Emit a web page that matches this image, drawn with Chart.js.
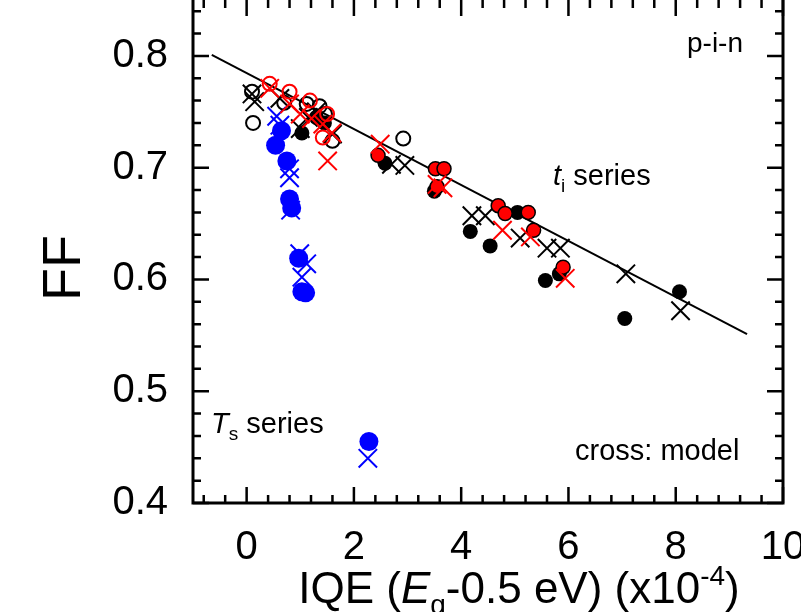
<!DOCTYPE html>
<html>
<head>
<meta charset="utf-8">
<script src="https://cdn.jsdelivr.net/npm/chart.js@4.4.1/dist/chart.umd.min.js"></script>
<style>
  html, body { margin: 0; padding: 0; background: #fff; }
  #wrap { width: 801px; height: 612px; }
</style>
</head>
<body>
<div id="wrap"><canvas id="ffChart" width="801" height="612"></canvas></div>
<script>
// measured, t_i series (black) and T_s series (blue); red = second sample set
const blackOpenX   = [0.1, 0.12, 0.7, 1.12, 1.36, 1.46, 1.6, 2.92];
const blackOpenY   = [0.768, 0.740, 0.758, 0.757, 0.755, 0.748, 0.724, 0.726];
const blackFillX   = [1.03, 1.3, 1.45, 2.58, 3.5, 4.17, 4.54, 5.05, 5.57, 5.83, 7.05, 8.07];
const blackFillY   = [0.731, 0.745, 0.740, 0.704, 0.679, 0.643, 0.630, 0.660, 0.599, 0.605, 0.565, 0.589];
const blackCrossX  = [0.1, 0.15, 0.62, 1.0, 1.15, 1.3, 1.6, 2.7, 2.95, 4.2, 4.45, 5.1, 5.6, 5.85, 7.07, 8.09];
const blackCrossY  = [0.766, 0.759, 0.762, 0.735, 0.745, 0.750, 0.730, 0.703, 0.702, 0.657, 0.657, 0.637, 0.628, 0.628, 0.605, 0.572];
const redOpenX     = [0.43, 0.8, 1.18, 1.5, 1.42];
const redOpenY     = [0.775, 0.768, 0.760, 0.748, 0.727];
const redFillX     = [2.45, 3.52, 3.68, 3.55, 4.69, 4.82, 5.25, 5.35, 5.9];
const redFillY     = [0.711, 0.699, 0.699, 0.683, 0.666, 0.659, 0.660, 0.644, 0.611];
const redCrossX    = [0.43, 0.8, 1.0, 1.21, 1.42, 1.59, 1.51, 2.49, 3.55, 3.66, 4.77, 5.29, 5.94];
const redCrossY    = [0.771, 0.757, 0.748, 0.744, 0.739, 0.731, 0.706, 0.721, 0.685, 0.682, 0.644, 0.638, 0.601];
const blueFillX    = [0.65, 0.54, 0.75, 0.8, 0.84, 0.97, 1.03, 1.1, 2.28];
const blueFillY    = [0.733, 0.720, 0.706, 0.672, 0.664, 0.619, 0.589, 0.588, 0.455];
const blueCrossX   = [0.56, 0.62, 0.8, 0.8, 0.82, 0.99, 1.12, 1.03, 2.26];
const blueCrossY   = [0.746, 0.738, 0.699, 0.691, 0.662, 0.623, 0.614, 0.602, 0.440];
const trendX       = [-0.65, 9.33];
const trendY       = [0.801, 0.551];

const xTicks = [0, 2, 4, 6, 8, 10];
const yTicks = [0.4, 0.5, 0.6, 0.7, 0.8];

const FAM = '"Liberation Sans", Arial, sans-serif';

function pts(xs, ys) { return xs.map((x, i) => ({x: x, y: ys[i]})); }

function richText(ctx, parts, x, y, size, align) {
    const fontFor = p => (p.i ? 'italic ' : '') + ((p.sub || p.sup) ? Math.round(size * 0.64) : size) + 'px ' + FAM;
    let w = 0;
    parts.forEach(p => { ctx.font = fontFor(p); w += ctx.measureText(p.t).width; });
    let cx = align === 'center' ? x - w / 2 : x;
    parts.forEach(p => {
        ctx.font = fontFor(p);
        const dy = p.sub ? size * 0.25 : p.sup ? -size * 0.42 : 0;
        ctx.fillText(p.t, cx, y + dy);
        cx += ctx.measureText(p.t).width;
    });
}

// frame, inward ticks, titles and labels
const decor = {
    id: 'decor',
    afterDraw(chart) {
        const {ctx, chartArea: a, scales: {x, y}} = chart;
        ctx.save();
        ctx.strokeStyle = '#000';
        ctx.lineWidth = 3;
        ctx.beginPath();
        ctx.moveTo(a.left, a.top); ctx.lineTo(a.left, a.bottom);
        ctx.lineTo(a.right, a.bottom); ctx.lineTo(a.right, a.top);
        ctx.stroke();

        ctx.lineWidth = 2.5;
        ctx.beginPath();
        for (let i = -2; i <= 25; i++) {
            const px = x.getPixelForValue(i * 0.4);
            const len = (i % 5 === 0) ? 16 : 8;
            ctx.moveTo(px, a.bottom); ctx.lineTo(px, a.bottom - len);
            ctx.moveTo(px, a.top); ctx.lineTo(px, a.top + len);
        }
        for (let i = 20; i <= 42; i++) {
            const py = y.getPixelForValue(i * 0.02);
            const len = (i % 5 === 0) ? 16 : 8;
            ctx.moveTo(a.left, py); ctx.lineTo(a.left + len, py);
            ctx.moveTo(a.right, py); ctx.lineTo(a.right - len, py);
        }
        ctx.stroke();

        ctx.fillStyle = '#000';
        ctx.textBaseline = 'alphabetic';
        ctx.textAlign = 'left';
        richText(ctx, [
            {t: 'IQE ('}, {t: 'E', i: true}, {t: 'g', sub: true},
            {t: '-0.5 eV) (x10'}, {t: '-4', sup: true}, {t: ')'}
        ], 519, 603, 44, 'center');

        richText(ctx, [{t: 'p-i-n'}], 687, 52, 28);
        richText(ctx, [{t: 't', i: true}, {t: 'i', sub: true}, {t: ' series'}], 553, 185, 29);
        richText(ctx, [{t: 'T', i: true}, {t: 's', sub: true}, {t: ' series'}], 211, 433, 29);
        richText(ctx, [{t: 'cross: model'}], 575, 460, 29);

        ctx.save();
        ctx.translate(80, 268);
        ctx.rotate(-Math.PI / 2);
        ctx.textAlign = 'center';
        ctx.font = '54px ' + FAM;
        ctx.fillText('FF', 0, 0);
        ctx.restore();
        ctx.restore();
    }
};

function circles(data, color, fill, r, bw, order) {
    return { data: data, pointStyle: 'circle', pointRadius: r, borderColor: color,
             backgroundColor: fill, borderWidth: bw, order: order, showLine: false };
}
function crosses(data, color, order) {
    return { data: data, pointStyle: 'crossRot', pointRadius: 13, borderColor: color,
             backgroundColor: color, borderWidth: 2, order: order, showLine: false };
}

const ctx = document.getElementById('ffChart').getContext('2d');
new Chart(ctx, {
    type: 'scatter',
    data: {
        datasets: [
            crosses(pts(redCrossX, redCrossY), '#ff0000', 1),
            circles(pts(redFillX, redFillY), '#000000', '#ff0000', 7, 1.5, 2),
            circles(pts(redOpenX, redOpenY), '#ff0000', 'rgba(0,0,0,0)', 7, 2, 3),
            crosses(pts(blackCrossX, blackCrossY), '#000000', 4),
            circles(pts(blackFillX, blackFillY), '#000000', '#000000', 7.5, 0, 5),
            circles(pts(blackOpenX, blackOpenY), '#000000', 'rgba(0,0,0,0)', 7, 2, 6),
            crosses(pts(blueCrossX, blueCrossY), '#0000ff', 7),
            circles(pts(blueFillX, blueFillY), '#0000ff', '#0000ff', 9.5, 0, 8),
            { type: 'line', data: pts(trendX, trendY), borderColor: '#000', borderWidth: 2,
              pointRadius: 0, fill: false, order: 9 }
        ]
    },
    options: {
        responsive: false,
        animation: false,
        layout: { autoPadding: false, padding: { left: 0, right: 18, top: 0, bottom: 0 } },
        plugins: { legend: { display: false }, tooltip: { enabled: false } },
        scales: {
            x: {
                type: 'linear', min: -1, max: 10,
                grid: { display: false, drawTicks: false },
                border: { display: false },
                afterBuildTicks: s => { s.ticks = xTicks.map(v => ({value: v})); },
                ticks: { font: { family: FAM, size: 40 }, color: '#000', padding: 21, maxRotation: 0, autoSkip: false },
                afterFit: s => { s.height = 109; s.paddingLeft = 0; s.paddingRight = 0; }
            },
            y: {
                type: 'linear', min: 0.4, max: 0.85,
                grid: { display: false, drawTicks: false },
                border: { display: false },
                afterBuildTicks: s => { s.ticks = yTicks.map(v => ({value: v})); },
                ticks: { font: { family: FAM, size: 40 }, color: '#000', padding: 25, callback: v => v.toFixed(1) },
                afterFit: s => { s.width = 193; s.paddingTop = 0; s.paddingBottom = 0; }
            }
        }
    },
    plugins: [decor]
});
</script>
</body>
</html>
